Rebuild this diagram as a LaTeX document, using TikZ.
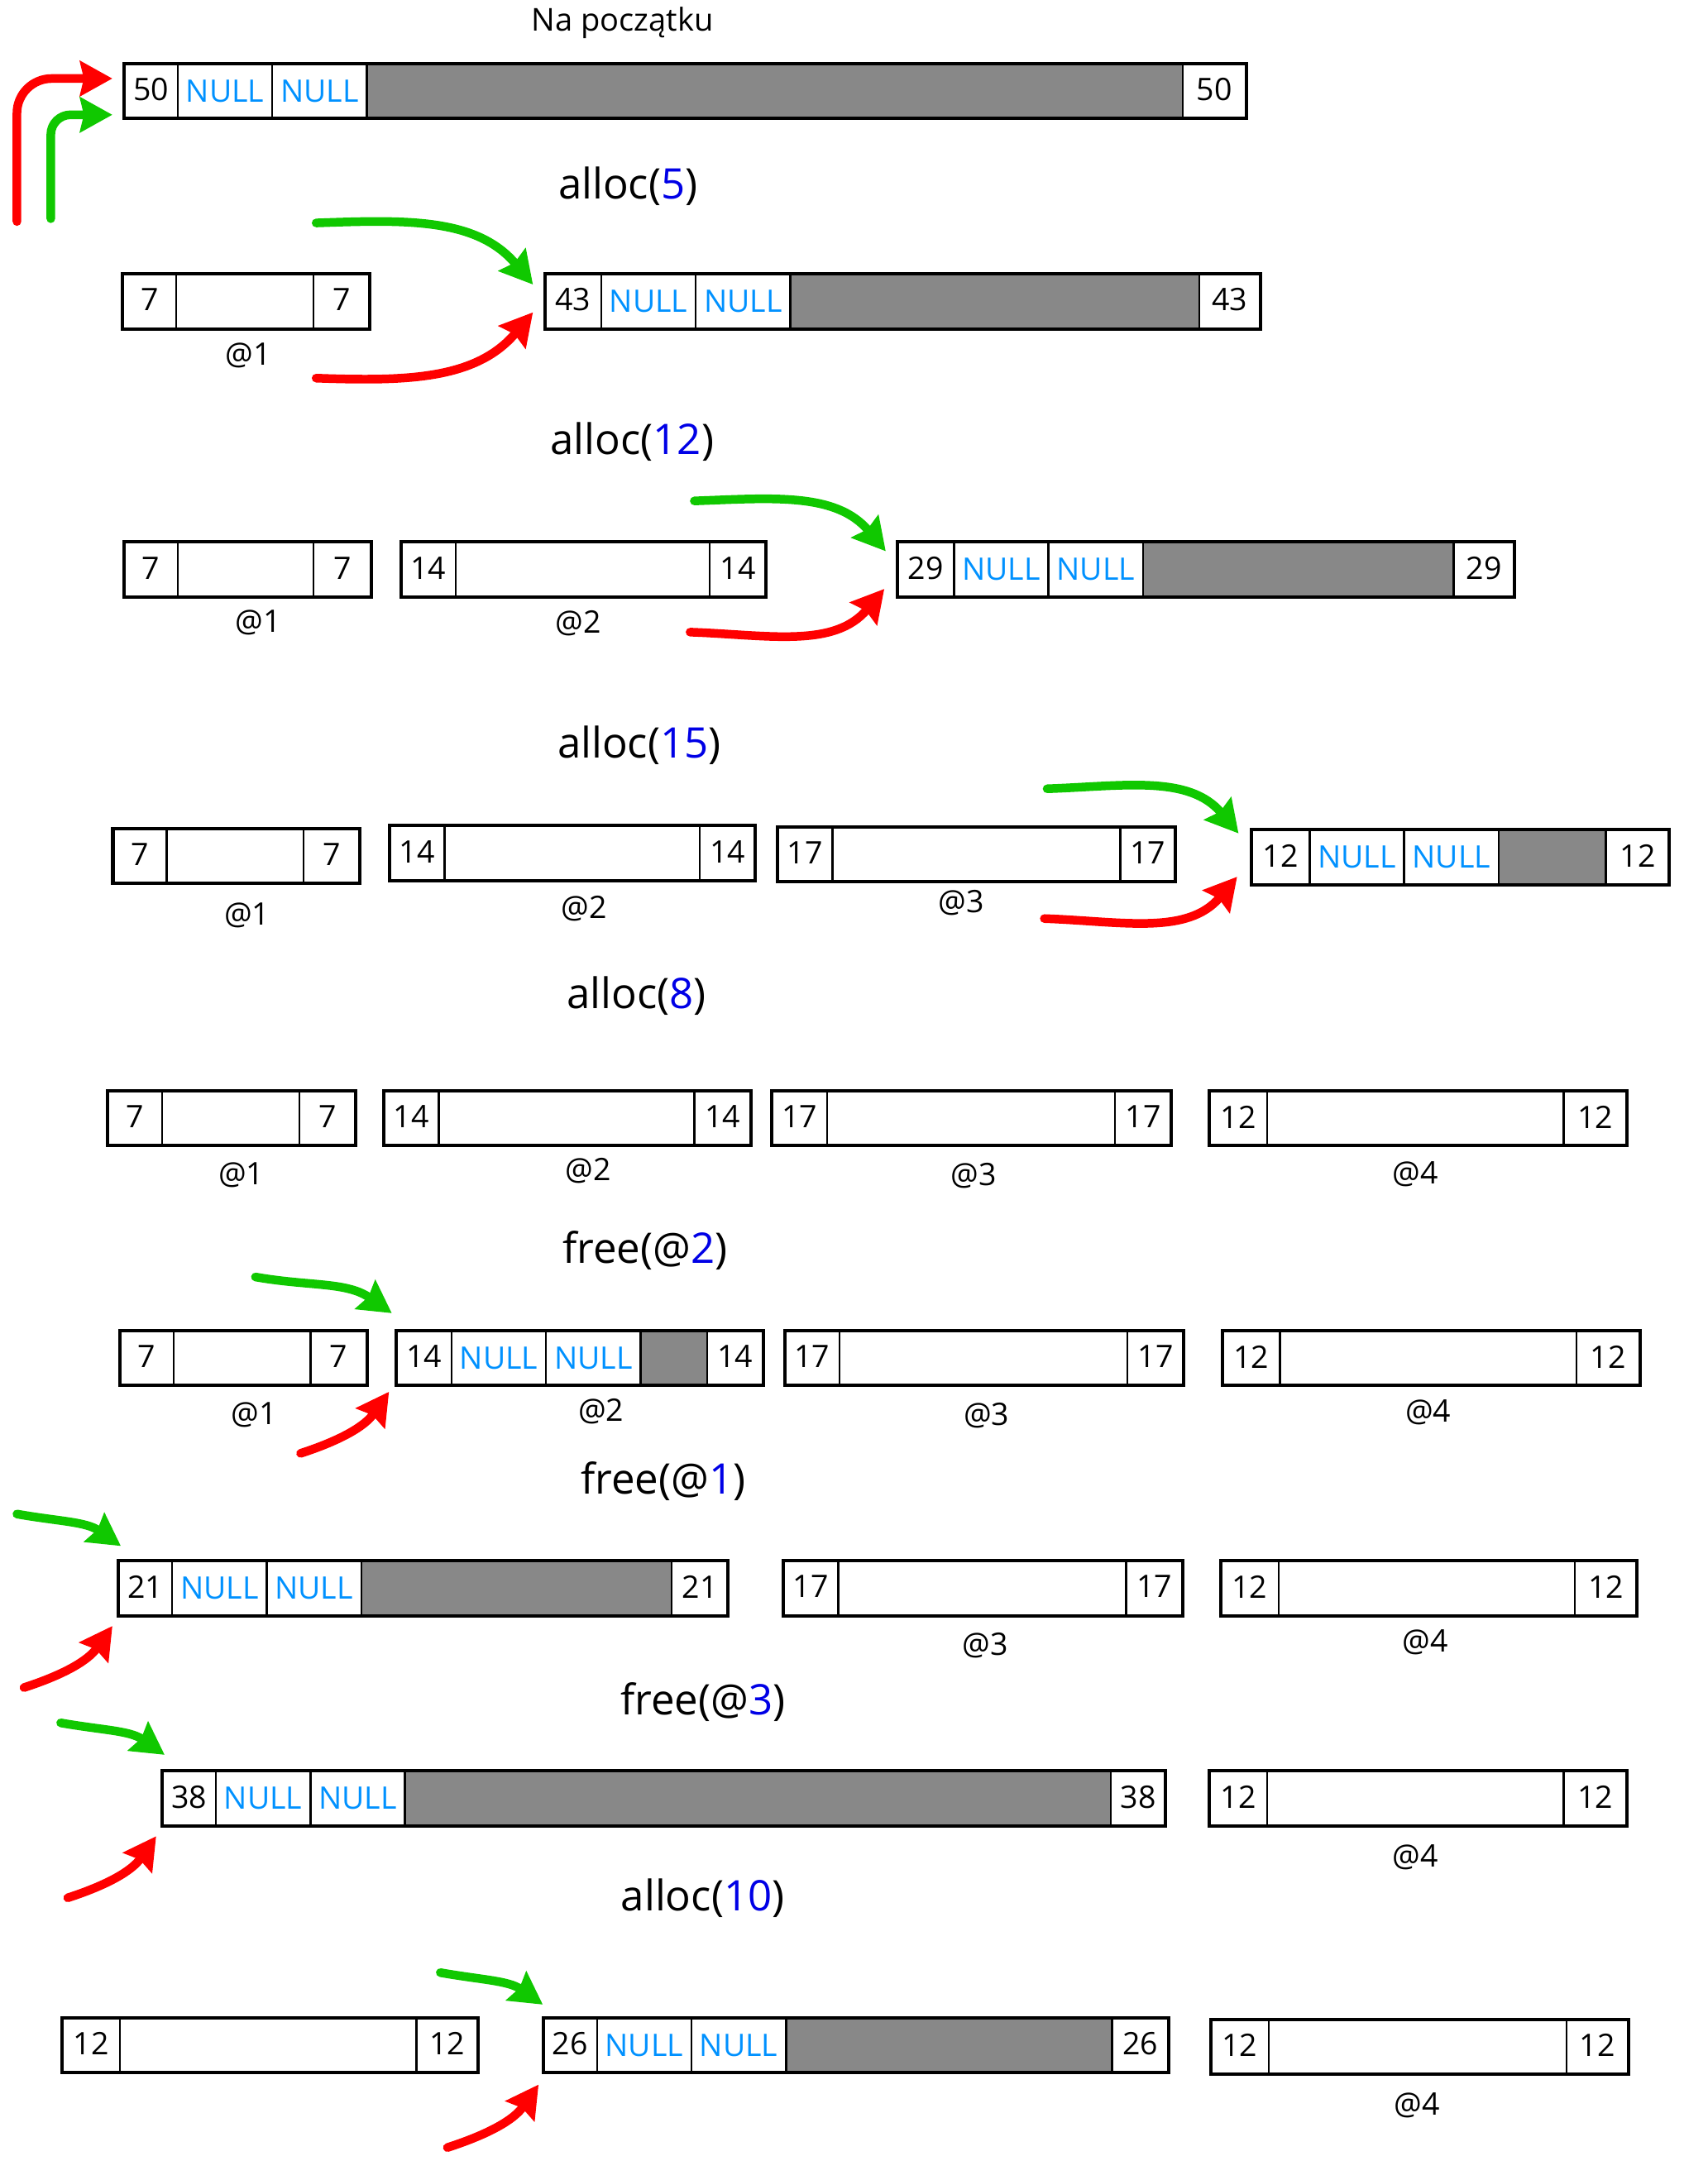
\documentclass[tikz,border=0pt]{standalone}
\usepackage{fontspec}
\setmainfont{Open Sans}
\usetikzlibrary{arrows.meta}

\definecolor{nullblue}{RGB}{0,145,255}
\definecolor{argblue}{RGB}{0,0,230}
\definecolor{freegray}{RGB}{136,136,136}
\definecolor{arrred}{RGB}{255,0,0}
\definecolor{arrgreen}{RGB}{16,200,0}

\tikzset{
  blkline/.style={line width=1.35pt},
  sepline/.style={line width=0.8pt},
  freepart/.style={fill=freegray},
  num/.style={inner sep=0pt,font=\fontsize{12.5}{14}\selectfont},
  nul/.style={num,text=nullblue},
  addr/.style={inner sep=0pt,font=\fontsize{12.5}{14}\selectfont},
  title/.style={inner sep=0pt,font=\fontsize{17}{20}\selectfont},
  smalltitle/.style={inner sep=0pt,font=\fontsize{12.7}{15}\selectfont},
  greenarr/.style={draw=arrgreen,line width=3.5pt,line cap=round,
    -{Stealth[length=13pt,width=14pt,inset=1.5pt]}},
  redarr/.style={draw=arrred,line width=3.5pt,line cap=round,
    -{Stealth[length=13pt,width=14pt,inset=1.5pt]}},
}

% used block: name, left, div1, div2, right, top, size
\newcommand{\usedblk}[7]{%
  \draw[blkline] (#2,-#6) rectangle (#5,{-#6-39});
  \draw[sepline] (#3,-#6) -- (#3,{-#6-39}) (#4,-#6) -- (#4,{-#6-39});
  \node[num,minimum width={(#3-#2)*0.02cm},minimum height=0.78cm] (#1l) at ({(#2+#3)/2},{-#6-18.5}) {#7};
  \node[num] (#1r) at ({(#4+#5)/2},{-#6-18.5}) {#7};
}
% free block: name, left, div1, end of gray, right, top, size
\newcommand{\freeblk}[7]{%
  \fill[freepart] ({#3+134},-#6) rectangle (#4,{-#6-39});
  \draw[sepline] (#3,-#6) -- (#3,{-#6-39}) ({#3+67},-#6) -- ({#3+67},{-#6-39})
    ({#3+134},-#6) -- ({#3+134},{-#6-39}) (#4,-#6) -- (#4,{-#6-39});
  \draw[blkline] (#2,-#6) rectangle (#5,{-#6-39});
  \node[num,minimum width={(#3-#2)*0.02cm},minimum height=0.78cm] (#1l) at ({(#2+#3)/2},{-#6-18.5}) {#7};
  \node[nul] (#1n) at ({#3+33.5},{-#6-19.5}) {NULL};
  \node[nul] (#1m) at ({#3+100.5},{-#6-19.5}) {NULL};
  \node[num] (#1r) at ({(#4+#5)/2},{-#6-18.5}) {#7};
}

\begin{document}
\begin{tikzpicture}[x=0.02cm,y=0.02cm]
\useasboundingbox (0,0) rectangle (1210,-1545);

% Na poczatku
\node[smalltitle] (t0) at (441,-16) {Na początku};
\freeblk{f0}{88}{126}{838}{883}{45}{50}
\coordinate (r0) at (12,-157);
\coordinate (g0) at (36,-155);
\draw[redarr,rounded corners=14pt] (r0) |- ([shift={(-8,-12)}]f0l.north west);
\draw[greenarr,rounded corners=8pt] (g0) |- ([shift={(-8,2)}]f0l.south west);

% alloc(5)
\node[title] (t1) at (445,-132) {alloc(\textcolor{argblue}{5})};
\usedblk{u1a}{87}{125}{222}{262}{194}{7}
\node[addr] (a1a) at (176,-252) {@1};
\freeblk{f1}{386}{426}{850}{893}{194}{43}
\coordinate (g1) at (224,-158);
\coordinate (r1) at (224,-268);
\draw[greenarr] (g1) to[out=2,in=130] ([shift={(-8,-9)}]f1l.north west);
\draw[redarr] (r1) to[out=-2,in=-130] ([shift={(-8,11)}]f1l.south west);

% alloc(12)
\node[title] (t2) at (448,-313) {alloc(\textcolor{argblue}{12})};
\usedblk{u2a}{88}{126}{222}{263}{384}{7}
\node[addr] (a2a) at (183,-441) {@1};
\usedblk{u2b}{284}{323}{503}{543}{384}{14}
\node[addr] (a2b) at (410,-442) {@2};
\freeblk{f2}{636}{676}{1030}{1073}{384}{29}
\coordinate (g2) at (492,-355);
\coordinate (r2) at (489,-448);
\draw[greenarr] (g2) to[out=2,in=130] ([shift={(-8,-8)}]f2l.north west);
\draw[redarr] (r2) to[out=-2,in=-130] ([shift={(-9,5)}]f2l.south west);

% alloc(15)
\node[title] (t3) at (453,-528) {alloc(\textcolor{argblue}{15})};
\usedblk{u3a}{80}{118}{215}{255}{587}{7}
\node[addr] (a3a) at (175,-649) {@1};
\usedblk{u3b}{276}{315}{496}{535}{585}{14}
\node[addr] (a3b) at (414,-644) {@2};
\usedblk{u3c}{551}{590}{794}{833}{586}{17}
\node[addr] (a3c) at (681,-640) {@3};
\freeblk{f3}{887}{928}{1138}{1183}{588}{12}
\coordinate (g3) at (742,-559);
\coordinate (r3) at (740,-651);
\draw[greenarr] (g3) to[out=2,in=130] ([shift={(-9,-4)}]f3l.north west);
\draw[redarr] (r3) to[out=-2,in=-130] ([shift={(-10,5)}]f3l.south west);

% alloc(8)
\node[title] (t4) at (451,-706) {alloc(\textcolor{argblue}{8})};
\usedblk{u4a}{76}{115}{212}{252}{773}{7}
\node[addr] (a4a) at (171,-833) {@1};
\usedblk{u4b}{272}{311}{492}{532}{773}{14}
\node[addr] (a4b) at (417,-830) {@2};
\usedblk{u4c}{547}{586}{790}{830}{773}{17}
\node[addr] (a4c) at (690,-833) {@3};
\usedblk{u4d}{857}{898}{1108}{1153}{773}{12}
\node[addr] (a4d) at (1003,-832) {@4};

% free(@2)
\node[title] (t5) at (457,-886) {free(@\textcolor{argblue}{2})};
\usedblk{u5a}{85}{123}{220}{260}{943}{7}
\node[addr] (a5a) at (180,-1003) {@1};
\freeblk{f5}{281}{320}{501}{541}{943}{14}
\node[addr] (a5b) at (426,-1000) {@2};
\usedblk{u5c}{556}{595}{799}{839}{943}{17}
\node[addr] (a5c) at (699,-1003) {@3};
\usedblk{u5d}{866}{907}{1117}{1162}{943}{12}
\node[addr] (a5d) at (1012,-1001) {@4};
\coordinate (g5) at (181,-905);
\coordinate (r5) at (213,-1030);
\draw[greenarr] (g5) to[out=-10,in=145] ([shift={(-3,11)}]f5l.north west);
\draw[redarr] (r5) to[out=18,in=-125] ([shift={(-5,-5)}]f5l.south west);

% free(@1)
\node[title] (t6) at (470,-1050) {free(@\textcolor{argblue}{1})};
\freeblk{f6}{84}{122}{476}{516}{1106}{21}
\usedblk{u6c}{555}{594}{798}{838}{1106}{17}
\node[addr] (a6c) at (698,-1166) {@3};
\usedblk{u6d}{865}{906}{1116}{1160}{1106}{12}
\node[addr] (a6d) at (1010,-1164) {@4};
\coordinate (g6) at (12,-1073);
\coordinate (r6) at (17,-1196);
\draw[greenarr] (g6) to[out=-10,in=145] ([shift={(2,9)}]f6l.north west);
\draw[redarr] (r6) to[out=18,in=-125] ([shift={(-4,-8)}]f6l.south west);

% free(@3)
\node[title] (t7) at (498,-1206) {free(@\textcolor{argblue}{3})};
\freeblk{f7}{115}{153}{787}{826}{1255}{38}
\usedblk{u7d}{857}{898}{1108}{1153}{1255}{12}
\node[addr] (a7d) at (1003,-1316) {@4};
\coordinate (g7) at (43,-1221);
\coordinate (r7) at (48,-1345);
\draw[greenarr] (g7) to[out=-10,in=145] ([shift={(2,10)}]f7l.north west);
\draw[redarr] (r7) to[out=18,in=-125] ([shift={(-4,-8)}]f7l.south west);

% alloc(10)
\node[title] (t8) at (498,-1345) {alloc(\textcolor{argblue}{10})};
\usedblk{u8a}{44}{85}{295}{339}{1430}{12}
\freeblk{f8}{385}{423}{788}{828}{1430}{26}
\usedblk{u8d}{858}{899}{1110}{1154}{1431}{12}
\node[addr] (a8d) at (1004,-1492) {@4};
\coordinate (g8) at (312,-1398);
\coordinate (r8) at (317,-1522);
\draw[greenarr] (g8) to[out=-10,in=145] ([shift={(0,8)}]f8l.north west);
\draw[redarr] (r8) to[out=18,in=-125] ([shift={(-3,-9)}]f8l.south west);
\end{tikzpicture}
\end{document}
